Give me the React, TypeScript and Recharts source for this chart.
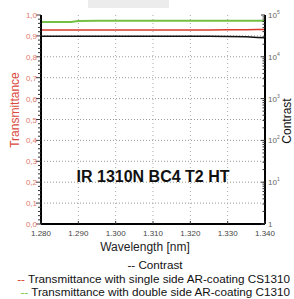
import React from "react";
import { LineChart, Line, XAxis, YAxis, CartesianGrid, ReferenceLine } from "recharts";

// values
const wavelength = [1.28, 1.284, 1.288, 1.29, 1.295, 1.3, 1.305, 1.31, 1.315, 1.32, 1.325, 1.33, 1.335, 1.338, 1.34];
const transSingle = [0.928, 0.928, 0.928, 0.928, 0.928, 0.928, 0.928, 0.928, 0.928, 0.928, 0.928, 0.929, 0.93, 0.931, 0.931];
const transDouble = [0.966, 0.966, 0.967, 0.971, 0.972, 0.972, 0.972, 0.972, 0.972, 0.972, 0.972, 0.972, 0.972, 0.972, 0.972];
const contrast = [31000, 31000, 31000, 31000, 31000, 31000, 31000, 31000, 31000, 31000, 31000, 30800, 30000, 29000, 28500];

const xTicks = [1.28, 1.29, 1.3, 1.31, 1.32, 1.33, 1.34];
const gridX = [1.29, 1.3, 1.31, 1.32, 1.33];
const gridY = [0.1, 0.2, 0.3, 0.4, 0.5, 0.6, 0.7, 0.8, 0.9];
const leftTicks = Array.from({ length: 51 }, (_, i) => +(i * 0.02).toFixed(2));
const rightMajor = [1, 10, 100, 1000, 10000, 100000];
const rightMinor = [2, 3, 4, 5, 6, 7, 8, 9];
const rightTicks = [
  ...rightMajor,
  ...rightMajor.slice(0, 5).flatMap((d) => rightMinor.map((m) => m * d)),
].sort((a, b) => a - b);

const data = wavelength.map((w, i) => ({
  w,
  single: transSingle[i],
  double: transDouble[i],
  contrast: contrast[i],
}));

const RED = "#d8392b";
const GREEN = "#74bf44";
const FONT = "'Liberation Sans', Arial, sans-serif";

const LeftTick = (props: any) => {
  const { x, y, payload } = props;
  const v = payload.value;
  const major = Math.abs(v * 10 - Math.round(v * 10)) < 1e-6;
  return (
    <g>
      <line x1={x - (major ? 5 : 3)} x2={x} y1={y} y2={y} stroke="#333" strokeWidth={1} />
      {major && (
        <text x={x - 4} y={y} dy={3} textAnchor="end" fontSize={8} fill="#e07a6c" fontFamily={FONT}>
          {v.toFixed(1).replace(".", ",")}
        </text>
      )}
    </g>
  );
};

const RightTick = (props: any) => {
  const { x, y, payload } = props;
  const v = payload.value;
  const exp = Math.round(Math.log10(v));
  const major = Math.abs(Math.log10(v) - exp) < 1e-6;
  return (
    <g>
      <line x1={x - (major ? 4 : 2.5)} x2={x} y1={y} y2={y} stroke="#333" strokeWidth={1} />
      {major && (
        <text x={x + 3} y={y} dy={3} textAnchor="start" fontSize={8} fill="#666" fontFamily={FONT}>
          {exp === 0 ? (
            "1"
          ) : (
            <>
              <tspan>10</tspan>
              <tspan dy={-4} fontSize={5}>{exp}</tspan>
            </>
          )}
        </text>
      )}
    </g>
  );
};

const BottomTick = (props: any) => {
  const { x, y, payload } = props;
  return (
    <g>
      <line x1={x} x2={x} y1={y} y2={y - 3} stroke="#333" />
      <text x={x} y={y + 12} textAnchor="middle" fontSize={8} fill="#444" fontFamily={FONT}>
        {payload.value.toFixed(3)}
      </text>
    </g>
  );
};

const TopTick = (props: any) => {
  const { x, y } = props;
  return <line x1={x} x2={x} y1={y} y2={y + 3} stroke="#555" />;
};

const text = (style: React.CSSProperties): React.CSSProperties => ({
  position: "absolute",
  whiteSpace: "nowrap",
  fontFamily: FONT,
  lineHeight: 1,
  ...style,
});

export default function App() {
  return (
    <div style={{ position: "absolute", left: 0, top: 0, width: 294, height: 299, background: "#fff" }}>
      <div style={{ position: "absolute", left: 88, top: 0, width: 81, height: 8, background: "#ececec" }} />
      <LineChart width={294} height={299} data={data} margin={{ top: 15, right: 0, bottom: 0, left: 0 }}>
        <CartesianGrid
          stroke="#aaa"
          strokeDasharray="1 3"
          horizontal={false}
          verticalValues={gridX}
        />
        {gridY.map((v) => (
          <ReferenceLine key={v} y={v} stroke="#999" strokeDasharray="1 2" strokeWidth={1} ifOverflow="visible" />
        ))}
        <XAxis
          dataKey="w"
          type="number"
          domain={[1.28, 1.34]}
          ticks={xTicks}
          interval={0}
          height={75}
          tickSize={0}
          tickMargin={0}
          tick={<BottomTick />}
          axisLine={{ stroke: "#000", strokeWidth: 2 }}
          tickLine={false}
        />
        <XAxis
          xAxisId="top"
          dataKey="w"
          type="number"
          orientation="top"
          domain={[1.28, 1.34]}
          ticks={xTicks}
          interval={0}
          height={0}
          tickSize={0}
          tickMargin={0}
          tick={<TopTick />}
          axisLine={{ stroke: "#000", strokeWidth: 2 }}
          tickLine={false}
        />
        <YAxis
          domain={[0, 1]}
          ticks={leftTicks}
          interval={0}
          width={41}
          tickSize={0}
          tickMargin={0}
          tick={<LeftTick />}
          axisLine={{ stroke: "#000", strokeWidth: 2 }}
          tickLine={false}
        />
        <YAxis
          yAxisId="right"
          orientation="right"
          scale="log"
          domain={[1, 100000]}
          allowDataOverflow
          ticks={rightTicks}
          interval={0}
          width={29}
          tickSize={0}
          tickMargin={0}
          tick={<RightTick />}
          axisLine={{ stroke: "#000", strokeWidth: 2 }}
          tickLine={false}
        />
        <Line dataKey="double" stroke={GREEN} strokeWidth={2} dot={false} isAnimationActive={false} />
        <Line dataKey="single" stroke={RED} strokeWidth={1.5} dot={false} isAnimationActive={false} />
        <Line yAxisId="right" dataKey="contrast" stroke="#111" strokeWidth={1.5} dot={false} isAnimationActive={false} />
      </LineChart>

      <div style={text({ left: 15, top: 110, fontSize: 12, color: "#d9493d", transform: "translate(-50%, -50%) rotate(-90deg)" })}>
        Transmittance
      </div>
      <div style={text({ left: 287, top: 121, fontSize: 12, color: "#111", transform: "translate(-50%, -50%) rotate(-90deg)" })}>
        Contrast
      </div>
      <div style={text({ left: 153, top: 177, fontSize: 16, fontWeight: "bold", color: "#111", transform: "translate(-50%, -50%)" })}>
        IR 1310N BC4 T2 HT
      </div>
      <div style={text({ left: 145, top: 247, fontSize: 12, color: "#222", transform: "translate(-50%, -50%)" })}>
        Wavelength [nm]
      </div>
      <div style={text({ left: 155, top: 265, fontSize: 11.7, color: "#111", transform: "translate(-50%, -50%)" })}>
        -- Contrast
      </div>
      <div style={text({ right: 4, top: 279, fontSize: 11.7, color: "#111", transform: "translateY(-50%)" })}>
        <span style={{ color: RED }}>--</span> Transmittance with single side AR-coating CS1310
      </div>
      <div style={text({ right: 4, top: 292, fontSize: 11.7, color: "#111", transform: "translateY(-50%)" })}>
        <span style={{ color: GREEN }}>--</span> Transmittance with double side AR-coating C1310
      </div>
    </div>
  );
}
